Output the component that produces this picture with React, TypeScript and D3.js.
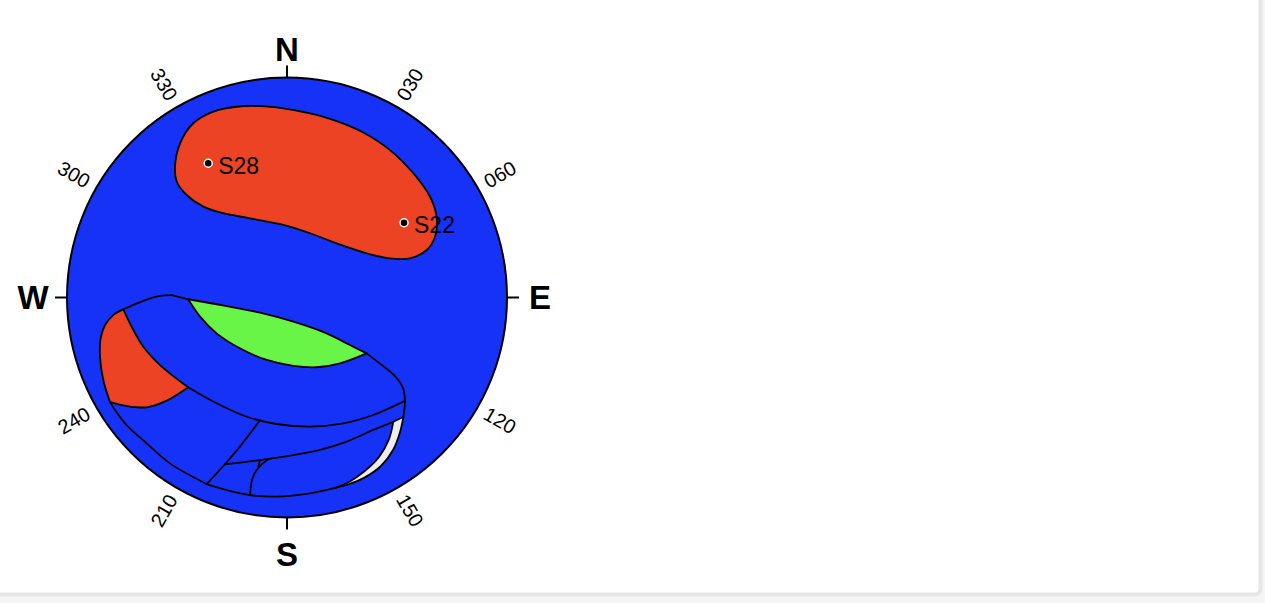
import React from 'react';
import * as d3 from 'd3';

type P = [number, number];

// Stereonet plane coordinates: [east, north], net radius = 100
const cardinalLabels = ['N', 'E', 'S', 'W'];
const cardinalAz = [0, 90, 180, 270];
const tickLabels = ['030', '060', '120', '150', '210', '240', '300', '330'];
const tickAz = [30, 60, 120, 150, 210, 240, 300, 330];

const poleNames = ['S28', 'S22'];
const poleEast = [-35.8, 53.2];
const poleNorth = [61.0, 34.0];

const upperZone: P[] = [
  [-50.9, 59.5], [-48.6, 70.1], [-42.6, 79.2], [-33.5, 84.5], [-22.9, 86.7], [-12.3, 87.0],
  [-1.7, 86.0], [10.5, 83.7], [22.6, 80.2], [34.7, 75.0], [46.8, 67.0], [57.4, 56.5],
  [65.0, 45.8], [68.0, 36.7], [67.3, 27.6], [63.5, 21.6], [55.9, 17.8], [46.8, 17.8],
  [36.2, 20.1], [22.6, 24.6], [10.5, 29.2], [-1.7, 33.0], [-16.8, 36.0], [-29.0, 38.3],
  [-38.0, 41.3], [-45.6, 46.6], [-50.1, 52.6],
];

const topGreen: P[] = [[36.2, -25.4], [28.6, -21.6], [18.0, -16.3], [2.9, -11.0], [-12.3, -6.9], [-27.4, -3.9], [-44.9, -0.8]];
const topLeft: P[] = [[-44.9, -0.8], [-52.4, 1.1]];
const leftTop: P[] = [[-52.4, 1.1], [-57.7, 0.7], [-65.3, -1.5], [-74.4, -5.4]];
const leftEdge: P[] = [[-74.4, -5.4], [-79.0, -8.0], [-82.7, -12.5], [-84.7, -18.5], [-85.0, -26.9], [-83.5, -37.5], [-80.5, -47.4]];
const lowerLeft: P[] = [[-80.5, -47.4], [-78.2, -51.1], [-72.9, -58.0], [-63.8, -66.3], [-53.2, -75.4], [-36.5, -84.8]];
const bottomEdge: P[] = [[-36.5, -84.8], [-27.4, -87.5], [-16.8, -89.8], [-4.7, -90.5], [10.5, -89.0], [22.3, -86.4]];
const sliverOuter: P[] = [[22.3, -86.4], [27.7, -85.0], [35.0, -82.0], [42.7, -76.6], [48.2, -69.3], [51.4, -61.1], [52.9, -54.3]];
const rightEdge: P[] = [[52.9, -54.3], [53.6, -47.0], [52.7, -41.1], [49.1, -35.7], [43.6, -31.1], [36.2, -25.4]];

const band1a: P[] = [[-74.4, -5.4], [-70.6, -13.3], [-65.3, -22.4], [-57.7, -30.7], [-44.9, -40.8]];
const band1b: P[] = [[-44.9, -40.8], [-32.0, -48.1], [-18.3, -54.2], [-4.7, -57.5], [10.5, -58.7], [25.6, -57.2], [39.2, -53.4], [53.6, -47.0]];
const greenBottom: P[] = [[-44.9, -0.8], [-39.5, -8.7], [-32.0, -16.3], [-21.4, -23.1], [-9.2, -28.4], [2.9, -31.1], [13.5, -31.7], [24.1, -29.9], [36.2, -25.4]];
const redBottom: P[] = [[-80.5, -47.4], [-72.9, -49.3], [-63.8, -49.9], [-54.7, -46.9], [-44.9, -40.8]];
const curve2a: P[] = [[52.9, -54.3], [48.3, -56.5]];
const curve2b: P[] = [[48.3, -56.5], [39.2, -60.2], [27.1, -65.5], [15.0, -69.3], [2.9, -71.6], [-9.2, -73.5], [-21.4, -75.1], [-28.2, -75.8]];
const diagA: P[] = [[-12.3, -55.8], [-21.4, -67.8], [-28.2, -75.8]];
const diagB: P[] = [[-28.2, -75.8], [-36.5, -84.8]];
const sliverInner: P[] = [[48.3, -56.5], [46.3, -64.5], [42.0, -72.2], [35.2, -79.0], [27.6, -84.2], [22.3, -86.4]];
const smallLine: P[] = [[-8.6, -73.6], [-11.4, -75.7], [-14.1, -78.9], [-15.9, -83.0], [-16.8, -89.8]];
const smallTick: P[] = [[-12.3, -74.0], [-13.0, -76.9]];

const BLUE = '#1632F7';
const RED = '#EC4324';
const GREEN = '#68F548';
const SLIVER = '#EDEDED';
const FONT = '"Liberation Sans", Arial, Helvetica, sans-serif';

export default function App() {
  const cx = 287, cy = 297.5, R = 220;
  const x = d3.scaleLinear().domain([-100, 100]).range([cx - R, cx + R]);
  const y = d3.scaleLinear().domain([-100, 100]).range([cy + R, cy - R]);
  const line = d3.line<P>().x(d => x(d[0])).y(d => y(d[1])).curve(d3.curveCatmullRom.alpha(0.5));
  const closed = d3.line<P>().x(d => x(d[0])).y(d => y(d[1])).curve(d3.curveCatmullRomClosed.alpha(0.5));
  const join = (segs: P[][]) =>
    segs.map((s, i) => { const p = line(s) as string; return i === 0 ? p : 'L' + p.slice(1); }).join('') + 'Z';
  const rev = (s: P[]) => [...s].reverse();

  const strokes = [topGreen, topLeft, leftTop, leftEdge, lowerLeft, bottomEdge, sliverOuter, rightEdge,
    band1a, band1b, greenBottom, redBottom, curve2a, curve2b, diagA, diagB, sliverInner, smallLine, smallTick];

  const greenFill = join([topGreen, greenBottom]);
  const redLeftFill = join([leftEdge, redBottom, rev(band1a)]);
  const sliverFill = join([sliverOuter, curve2a, sliverInner]);

  const rad = (a: number) => (a * Math.PI) / 180;
  const cardR = [248, 253, 257, 254];
  const SW = 1.8;

  return (
    <svg width={1265} height={603} style={{ position: 'absolute', left: 0, top: 0 }}>
      <rect x={0} y={0} width={1265} height={603} fill="#f5f5f5" />
      <rect x={-10} y={-10} width={1270.5} height={604.5} rx={6} fill="#ffffff" stroke="#e6e6e6" strokeWidth={4} />
      <circle cx={cx} cy={cy} r={R} fill={BLUE} />
      <path d={closed(upperZone) as string} fill={RED} stroke="#000" strokeWidth={SW} />
      <path d={greenFill} fill={GREEN} stroke="none" />
      <path d={redLeftFill} fill={RED} stroke="none" />
      <path d={sliverFill} fill={SLIVER} stroke="none" />
      {strokes.map((s, i) => (
        <path key={i} d={line(s) as string} fill="none" stroke="#000" strokeWidth={SW} strokeLinejoin="round" strokeLinecap="round" />
      ))}
      <circle cx={cx} cy={cy} r={R} fill="none" stroke="#000" strokeWidth={2} />
      {cardinalAz.map((az, i) => (
        <g key={'c' + i}>
          <line x1={cx + R * Math.sin(rad(az))} y1={cy - R * Math.cos(rad(az))}
            x2={cx + (R + 12) * Math.sin(rad(az))} y2={cy - (R + 12) * Math.cos(rad(az))}
            stroke="#000" strokeWidth={2} />
          <text x={cx + cardR[i] * Math.sin(rad(az))} y={cy - cardR[i] * Math.cos(rad(az))}
            textAnchor="middle" dominantBaseline="central" fontFamily={FONT} fontWeight="bold" fontSize={33}>
            {cardinalLabels[i]}
          </text>
        </g>
      ))}
      {tickAz.map((az, i) => {
        const r = 246;
        const tx = cx + r * Math.sin(rad(az));
        const ty = cy - r * Math.cos(rad(az));
        const rot = az < 180 ? az - 90 : az - 270;
        return (
          <text key={'t' + i} x={tx} y={ty} transform={`rotate(${rot},${tx},${ty})`}
            textAnchor="middle" dominantBaseline="central" fontFamily={FONT} fontSize={20}>
            {tickLabels[i]}
          </text>
        );
      })}
      {poleNames.map((n, i) => (
        <g key={n}>
          <circle cx={x(poleEast[i])} cy={y(poleNorth[i])} r={4} fill="#000" stroke="#fff" strokeWidth={1.4} />
          <text x={x(poleEast[i]) + 10} y={y(poleNorth[i]) + 10.5} fontFamily={FONT} fontSize={23}>{n}</text>
        </g>
      ))}
    </svg>
  );
}
